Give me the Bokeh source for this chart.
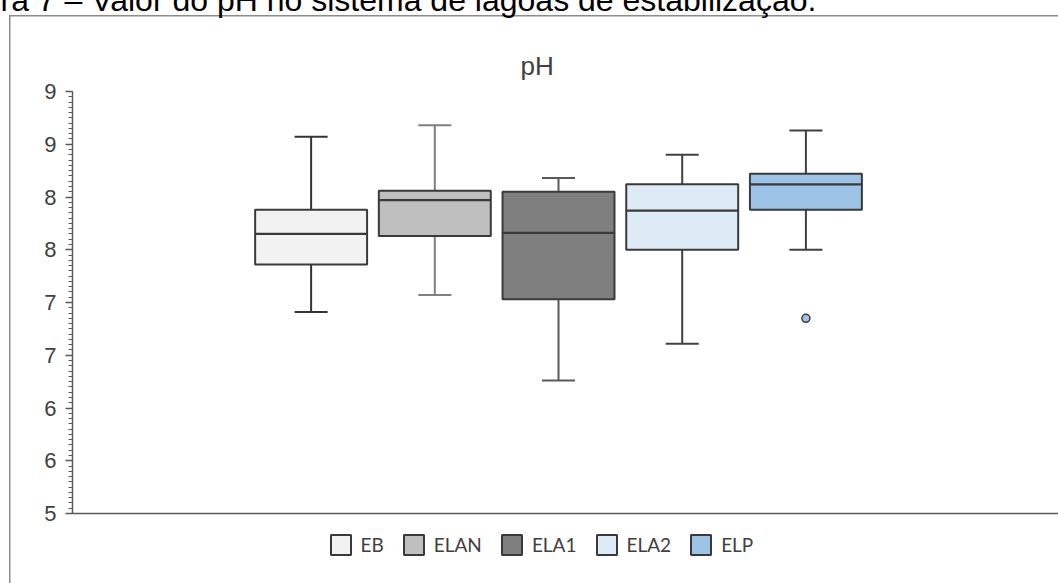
from bokeh.plotting import figure
from bokeh.models import (Range1d, FixedTicker, Legend, LegendItem, Title, Label)
from bokeh.embed import file_html
from bokeh.resources import INLINE

# ---- data ----
categories = ["EB", "ELAN", "ELA1", "ELA2", "ELP"]
whisker_low = [6.91, 7.07, 6.26, 6.61, 7.50]
q1 = [7.36, 7.63, 7.03, 7.50, 7.88]
median = [7.65, 7.97, 7.66, 7.87, 8.12]
q3 = [7.88, 8.06, 8.05, 8.12, 8.22]
whisker_high = [8.57, 8.68, 8.18, 8.40, 8.63]
outlier_cat = ["ELP"]
outlier_val = [6.85]
y_ticks = [5.0, 5.5, 6.0, 6.5, 7.0, 7.5, 8.0, 8.5, 9.0]
y_tick_labels = ["5", "6", "6", "7", "7", "8", "8", "9", "9"]
title_text = "pH"
caption_text = "ra 7 \u2013 Valor do pH no sistema de lagoas de estabiliza\u00e7\u00e3o."

# ---- styles ----
fills = ["#F2F2F2", "#BFBFBF", "#7F7F7F", "#DDEBF7", "#9DC3E6"]
edge = "#3A3A3A"
whisker_colors = ["#333333", "#7F7F7F", "#595959", "#404040", "#404040"]
axis_color = "#595959"
text_color = "#404040"
border_color = "#8C8C8C"

W, H = 1058, 583
FL, FR = 72, 1058                  # frame left/right in canvas pixels
FT, FB = 1, 573                    # frame top/bottom (frame also holds title & legend)
Y9, Y5 = 91, 513                   # canvas pixels of y = 9 and y = 5
px_per_unit = (Y5 - Y9) / (9 - 5)
y_start = 5 - (FB - Y5) / px_per_unit
y_end = 9 + (Y9 - FT) / px_per_unit

p = figure(width=W, height=H, output_backend="svg", toolbar_location=None,
           x_range=Range1d(-1.929, 6.042), y_range=Range1d(y_start, y_end),
           min_border_left=FL, min_border_right=W - FR,
           min_border_top=FT, min_border_bottom=H - FB)
p.outline_line_color = None
p.xgrid.visible = False
p.ygrid.visible = False
p.background_fill_color = None
p.border_fill_color = None
# white page with the decorative outer chart border (cropped at right/bottom)
p.styles = {
    "background-color": "white",
    "background-image": f"linear-gradient({border_color}, {border_color}), "
                        f"linear-gradient({border_color}, {border_color})",
    "background-size": "1.5px 600px, 1100px 1.5px",
    "background-position": "9px 15px, 9px 15px",
    "background-repeat": "no-repeat",
}

xs = list(range(len(categories)))
box_w = 0.905
cap_w = 0.267

box_renderers = []
for i, cat in enumerate(categories):
    x = xs[i]
    p.segment(x0=[x, x], y0=[q3[i], q1[i]], x1=[x, x], y1=[whisker_high[i], whisker_low[i]],
              line_color=whisker_colors[i], line_width=2)
    p.segment(x0=[x - cap_w / 2, x - cap_w / 2], y0=[whisker_high[i], whisker_low[i]],
              x1=[x + cap_w / 2, x + cap_w / 2], y1=[whisker_high[i], whisker_low[i]],
              line_color=whisker_colors[i], line_width=2)
    r = p.vbar(x=[x], width=box_w, bottom=[q1[i]], top=[q3[i]],
               fill_color=fills[i], line_color=edge, line_width=2)
    box_renderers.append(r)
    p.segment(x0=[x - box_w / 2], y0=[median[i]], x1=[x + box_w / 2], y1=[median[i]],
              line_color=edge, line_width=2.2)

ox = [xs[categories.index(c)] for c in outlier_cat]
p.scatter(x=ox, y=outlier_val, size=8, marker="circle",
          fill_color=fills[categories.index("ELP")], line_color=edge, line_width=1.5)

# y axis (limited to 5..9)
yax = p.yaxis[0]
yax.bounds = (5, 9)
yax.ticker = FixedTicker(ticks=y_ticks,
                         minor_ticks=[5 + 0.05 * k for k in range(81)])
yax.major_label_overrides = {t: l for t, l in zip(y_ticks, y_tick_labels)}
yax.axis_line_color = axis_color
yax.axis_line_width = 1.5
yax.major_tick_line_color = axis_color
yax.major_tick_line_width = 1.5
yax.minor_tick_line_color = axis_color
yax.minor_tick_line_width = 1.2
yax.major_tick_in = 0
yax.major_tick_out = 7
yax.minor_tick_in = 0
yax.minor_tick_out = 4
yax.major_label_standoff = 9
yax.major_label_text_font = "Liberation Sans"
yax.major_label_text_font_size = "22px"
yax.major_label_text_color = text_color

# x axis: line only, placed at y = 5
xax = p.xaxis[0]
xax.fixed_location = 5
xax.ticker = FixedTicker(ticks=[])
xax.major_label_text_font_size = "0px"
xax.major_tick_line_color = None
xax.minor_tick_line_color = None
xax.major_tick_out = 0
xax.major_tick_in = 0
xax.minor_tick_out = 0
xax.minor_tick_in = 0
xax.major_label_standoff = 0
xax.axis_line_color = axis_color
xax.axis_line_width = 1.5

# cropped figure caption at the very top
p.add_layout(Title(text=caption_text, align="left", offset=-FL, standoff=-37,
                   vertical_align="top",
                   text_font="Liberation Sans", text_font_size="32px",
                   text_font_style="normal", text_color="#000000"), "above")

# chart title "pH"
p.add_layout(Label(x=520 - FL, y=FB - 65, x_units="screen", y_units="screen",
                   text=title_text, text_font="Liberation Sans",
                   text_font_size="26px", text_color=text_color,
                   text_align="left", text_baseline="alphabetic"))

# legend below the axis line, inside the frame
legend = Legend(items=[LegendItem(label=c, renderers=[box_renderers[i]])
                       for i, c in enumerate(categories)],
                orientation="horizontal", location=(330 - 2.5 - FL, FB - 556.5),
                glyph_width=25, glyph_height=25, label_standoff=8, spacing=17,
                padding=0, margin=0, border_line_color=None,
                background_fill_alpha=0,
                label_text_font="Lato", label_text_font_size="19px",
                label_text_color=text_color)
p.add_layout(legend, "center")

open("out.html", "w").write(file_html(p, INLINE))
